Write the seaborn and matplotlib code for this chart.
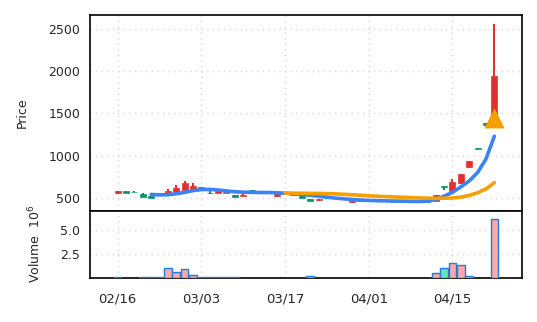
import numpy as np
import pandas as pd
import matplotlib
matplotlib.use("Agg")
import matplotlib.pyplot as plt
import seaborn as sns

# ---------------- data ----------------
idx = list(range(46))
opens = [555, 580, 575, 550, 520, 540, 542, 572, 592, 595,
         625, 562, 555, 560, 532, 525, 590, 568, 560, 518,
         555, 548, 518, 488, 472, 505, 495, 490, 447, 470,
         468, 462, 466, 460, 463, 458, 462, 462, 465, 640,
         585, 672, 862, 1093, 1382, 1385]
highs = [582, 582, 577, 552, 522, 545, 610, 650, 700, 678,
         630, 578, 582, 575, 534, 540, 591, 570, 568, 542,
         558, 550, 520, 490, 490, 507, 503, 492, 465, 472,
         470, 464, 468, 462, 465, 460, 464, 463, 535, 642,
         722, 785, 938, 1095, 1384, 2555]
lows = [540, 553, 564, 512, 495, 528, 538, 568, 588, 590,
        585, 550, 552, 556, 510, 522, 570, 558, 557, 515,
        542, 536, 495, 462, 468, 496, 493, 482, 444, 460,
        458, 455, 459, 454, 456, 452, 455, 453, 448, 590,
        580, 668, 858, 1073, 1364, 1380]
closes = [578, 556, 566, 515, 498, 532, 578, 618, 672, 636,
          590, 552, 578, 570, 514, 537, 584, 562, 566, 540,
          545, 538, 498, 465, 488, 498, 502, 484, 462, 462,
          464, 458, 462, 456, 461, 455, 460, 455, 530, 630,
          690, 780, 935, 1075, 1366, 1940]
volume = [0.06, 0, 0, 0.04, 0.04, 0.04, 1.0, 0.62, 0.95, 0.3,
          0.04, 0.04, 0.04, 0.04, 0.04, 0, 0, 0, 0, 0,
          0, 0, 0, 0.15, 0, 0, 0, 0, 0, 0,
          0, 0, 0, 0, 0, 0, 0, 0, 0.44, 1.02,
          1.58, 1.37, 0.12, 0, 0, 6.17]

fast_idx = list(range(4, 46))
fast_line = [540, 535, 537, 548, 565, 585, 598, 600, 593, 582,
             572, 567, 565, 563, 563, 560, 555, 548, 540, 530,
             520, 508, 497, 488, 480, 474, 469, 466, 464, 462,
             460, 458, 457, 460, 480, 520, 565, 630, 700, 800,
             960, 1230]
slow_idx = list(range(20, 46))
slow_line = [555, 555, 554, 553, 552, 550, 547, 542, 536, 530,
             524, 519, 515, 511, 507, 503, 499, 496, 494, 495,
             498, 508, 528, 560, 605, 680]

signal_idx = [45]
signal_price = [1450]

tick_idx = [0, 10, 20, 30, 40]
tick_labels = ["02/16", "03/03", "03/17", "04/01", "04/15"]

# ---------------- style ----------------
sns.set_style("white")
plt.rcParams["font.family"] = ["DejaVu Sans"]

UP = "#e03131"
DOWN = "#099268"
UP_V = "#ffa8a8"
DOWN_V = "#63e6be"
BLUE = "#3b82f6"
ORANGE = "#f59f00"
GRID = "#d9d9d9"

df = pd.DataFrame({"i": idx, "open": opens, "high": highs, "low": lows,
                   "close": closes, "volume": volume})
df["up"] = df["close"] >= df["open"]

fig = plt.figure(figsize=(5.37, 3.22), dpi=100)
ax = fig.add_axes([0.1676, 0.345, 0.8044, 0.608])
axv = fig.add_axes([0.1676, 0.138, 0.8044, 0.207], sharex=ax)

# candles
for up, col in [(True, UP), (False, DOWN)]:
    d = df[df["up"] == up]
    ax.vlines(d["i"], d["low"], d["high"], color=col, linewidth=1.5, zorder=2)
    bottom = np.minimum(d["open"], d["close"])
    height = np.maximum(np.abs(d["close"] - d["open"]), 6)
    ax.bar(d["i"], height, bottom=bottom, width=0.72, color=col,
           edgecolor=col, linewidth=0.5, zorder=3)

fast_df = pd.DataFrame({"i": fast_idx, "v": fast_line})
slow_df = pd.DataFrame({"i": slow_idx, "v": slow_line})
sns.lineplot(data=fast_df, x="i", y="v", ax=ax, color=BLUE, linewidth=2.6,
             zorder=4)
sns.lineplot(data=slow_df, x="i", y="v", ax=ax, color=ORANGE, linewidth=2.6,
             zorder=5)
sig_df = pd.DataFrame({"i": signal_idx, "p": signal_price})
sns.scatterplot(data=sig_df, x="i", y="p", ax=ax, marker="^", s=190,
                color=ORANGE, edgecolor=ORANGE, linewidth=0.5, zorder=6)

ax.set_ylim(345, 2665)
ax.set_yticks([500, 1000, 1500, 2000, 2500])
ax.set_xlim(-3.3, 48.3)
ax.set_ylabel("Price", fontsize=9, labelpad=14)
ax.set_xlabel("")
ax.grid(True, linestyle=(0, (1, 3)), color=GRID, linewidth=1.0)
ax.tick_params(axis="x", bottom=False, labelbottom=False)
ax.tick_params(axis="y", labelsize=9, length=3.5)

# volume
vd = df[df["volume"] > 0]
axv.bar(vd["i"], vd["volume"], width=0.9,
        color=[UP_V if u else DOWN_V for u in vd["up"]],
        edgecolor="#1c7ed6", linewidth=1.0, zorder=3)
axv.set_ylim(0, 7.0)
axv.set_yticks([2.5, 5.0])
axv.set_ylabel("Volume  $10^6$", fontsize=9, labelpad=12)
axv.set_xticks(tick_idx)
axv.set_xticklabels(tick_labels)
axv.grid(True, linestyle=(0, (1, 3)), color=GRID, linewidth=1.0)
axv.tick_params(axis="y", labelsize=9, length=3.5)
axv.tick_params(axis="x", labelsize=9.5, length=3.5, pad=7)
axv.set_xlabel("")

for a in (ax, axv):
    for s in a.spines.values():
        s.set_color("black")
        s.set_linewidth(1.2)

fig.savefig("out.png", dpi=100)
